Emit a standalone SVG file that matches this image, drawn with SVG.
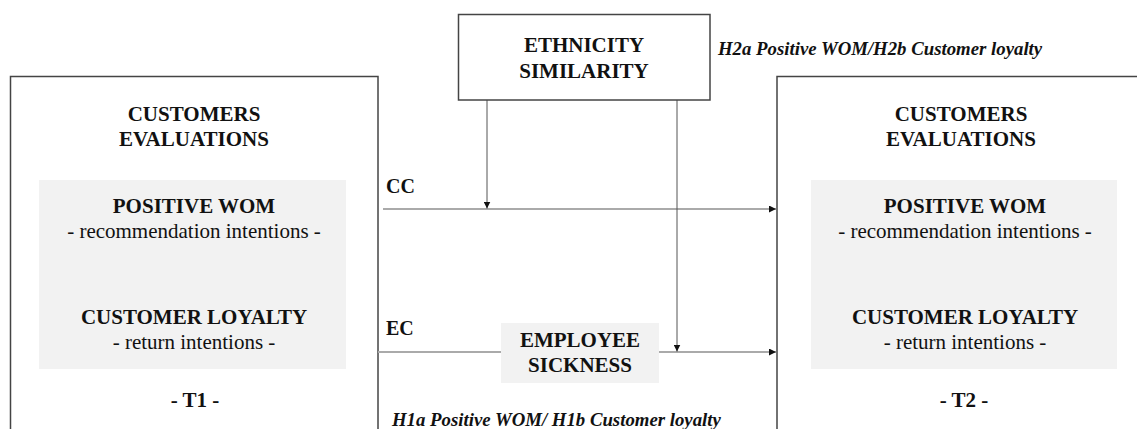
<svg xmlns="http://www.w3.org/2000/svg" width="1137" height="429" viewBox="0 0 1137 429">
<defs>
<style>
text{font-family:'Liberation Serif','Times New Roman','DejaVu Serif',serif;fill:#111}
.t{text-anchor:middle}
.b{font-weight:bold;font-size:21px}
.r{font-size:21px}
.h{font-weight:bold;font-style:italic;font-size:18.8px}
.lbl{font-weight:bold;font-size:20px}
.box{fill:#fff;stroke:#444;stroke-width:1.5}
.gray{fill:#f2f2f2;stroke:none}
.hl{stroke:#aaa;stroke-width:1.8;fill:none}
.vl{stroke:#555;stroke-width:1;fill:none}
</style>
<marker id="ah" viewBox="0 0 10 10" refX="10" refY="5" markerWidth="7" markerHeight="7" markerUnits="userSpaceOnUse" orient="auto">
<path d="M0,0 L10,5 L0,10 Z" fill="#111"/>
</marker>
</defs>
<rect width="1137" height="429" fill="#fff"/>

<g id="t1">
<rect class="box" x="10.5" y="76.5" width="367.5" height="360"/>
<text class="t b" x="194" y="121">CUSTOMERS</text>
<text class="t b" x="194" y="146">EVALUATIONS</text>
<rect class="gray" x="39" y="180" width="307" height="189"/>
<text class="t b" x="194" y="213">POSITIVE WOM</text>
<text class="t r" x="194" y="238">- recommendation intentions -</text>
<text class="t b" x="194" y="324">CUSTOMER LOYALTY</text>
<text class="t r" x="194" y="349">- return intentions -</text>
<text class="t b" x="195" y="407">- T1 -</text>
</g>

<g id="t2">
<rect class="box" x="777" y="76.5" width="380" height="360"/>
<text class="t b" x="961" y="121">CUSTOMERS</text>
<text class="t b" x="961" y="146">EVALUATIONS</text>
<rect class="gray" x="811" y="180" width="306" height="189"/>
<text class="t b" x="965" y="213">POSITIVE WOM</text>
<text class="t r" x="965" y="238">- recommendation intentions -</text>
<text class="t b" x="965" y="324">CUSTOMER LOYALTY</text>
<text class="t r" x="965" y="349">- return intentions -</text>
<text class="t b" x="964" y="407">- T2 -</text>
</g>

<g id="connectors">
<line class="hl" x1="383" y1="209" x2="776" y2="209" marker-end="url(#ah)"/>
<line class="hl" x1="378" y1="352" x2="776" y2="352" marker-end="url(#ah)"/>
<line class="vl" x1="487" y1="100" x2="487" y2="208.5" marker-end="url(#ah)"/>
<line class="vl" x1="677" y1="100" x2="677" y2="351.5" marker-end="url(#ah)"/>
</g>

<g id="ethnicity">
<rect class="box" x="458.5" y="14.5" width="251.5" height="85.5"/>
<text class="t b" x="584" y="52">ETHNICITY</text>
<text class="t b" x="584" y="78">SIMILARITY</text>
</g>

<g id="sickness">
<rect class="gray" x="501" y="323" width="158" height="60"/>
<text class="t b" x="580" y="347">EMPLOYEE</text>
<text class="t b" x="580" y="372">SICKNESS</text>
</g>

<g id="labels">
<text class="lbl" x="386" y="193">CC</text>
<text class="lbl" x="386" y="335">EC</text>
<text class="h" x="718" y="55">H2a Positive WOM/H2b Customer loyalty</text>
<text class="h" x="392" y="426">H1a Positive WOM/ H1b Customer loyalty</text>
</g>
</svg>
